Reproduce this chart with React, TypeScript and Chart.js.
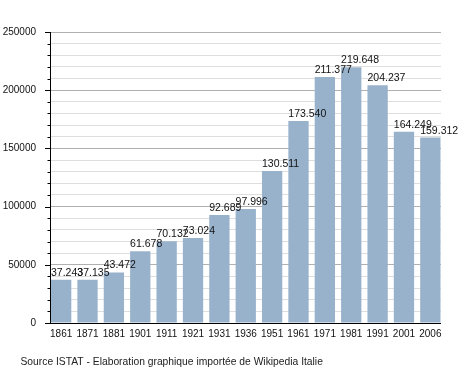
import React, { useEffect, useRef } from "react";
import { Chart, registerables } from "chart.js";

Chart.register(...registerables);

const years = ["1861", "1871", "1881", "1901", "1911", "1921", "1931", "1936", "1951", "1961", "1971", "1981", "1991", "2001", "2006"];
const population = [37243, 37135, 43472, 61678, 70132, 73024, 92689, 97996, 130511, 173540, 211377, 219648, 204237, 164249, 159312];
const yMax = 250000;
const yStep = 10000;
const yMajorStep = 50000;
const sourceText = "Source ISTAT - Elaboration graphique importée de Wikipedia Italie";

const FONT = "'Liberation Sans', Arial, sans-serif";

const fmt = (v: number) => (v / 1000).toFixed(3);

const overlayPlugin = {
  id: "overlay",
  afterDatasetsDraw(chart: any) {
    const ctx = chart.ctx;
    const meta = chart.getDatasetMeta(0);
    ctx.save();
    ctx.font = `10.5px ${FONT}`;
    ctx.fillStyle = "#111";
    ctx.textAlign = "left";
    ctx.textBaseline = "alphabetic";
    meta.data.forEach((bar: any, i: number) => {
      const left = bar.x - bar.width / 2;
      ctx.fillText(fmt(population[i]), left, bar.y - 4);
    });
    ctx.restore();
  },
  afterDraw(chart: any) {
    const ctx = chart.ctx;
    const y = chart.scales.y;
    const area = chart.chartArea;
    ctx.save();
    ctx.strokeStyle = "#000";
    ctx.lineWidth = 1;
    ctx.beginPath();
    for (let v = 0; v <= yMax; v += yStep) {
      const py = Math.round(y.getPixelForValue(v)) + 0.5;
      const len = v % yMajorStep === 0 ? 5 : 2.5;
      ctx.moveTo(area.left - len, py);
      ctx.lineTo(area.left, py);
    }
    const by = Math.round(area.bottom) + 0.5;
    ctx.moveTo(area.left - 5, by);
    ctx.lineTo(area.right, by);
    ctx.stroke();
    ctx.font = `10.3px ${FONT}`;
    ctx.fillStyle = "#222";
    ctx.textAlign = "left";
    ctx.textBaseline = "middle";
    ctx.fillText(sourceText, 20.5, 362);
    ctx.restore();
  },
};

export default function App() {
  const ref = useRef<HTMLCanvasElement | null>(null);
  useEffect(() => {
    document.body.style.margin = "0";
    if (!ref.current) return;
    const chart = new Chart(ref.current, {
      type: "bar",
      data: {
        datasets: [
          {
            data: population.map((v, i) => ({ x: i, y: v })),
            backgroundColor: "#98b2cc",
            borderWidth: 0,
            barPercentage: 0.77,
            categoryPercentage: 1,
          },
        ],
      },
      options: {
        responsive: false,
        animation: false,
        layout: { padding: { top: 32, right: 29, left: 0, bottom: 0 } },
        plugins: { legend: { display: false }, tooltip: { enabled: false } },
        scales: {
          x: {
            type: "linear",
            offset: false,
            min: -0.423,
            max: 14.404,
            grid: { display: false, drawTicks: false, offset: false },
            border: { display: false },
            ticks: {
              stepSize: 1,
              includeBounds: false,
              autoSkip: false,
              maxRotation: 0,
              padding: 5,
              color: "#111",
              font: { family: FONT, size: 10 },
              callback: (v: any) => (Number.isInteger(v) && years[v] !== undefined ? years[v] : ""),
            },
            afterFit: (s: any) => {
              s.height = 50;
            },
          },
          y: {
            min: 0,
            max: yMax,
            grid: {
              drawTicks: false,
              color: (c: any) => (c.tick && c.tick.value % yMajorStep === 0 ? "#b0b0b0" : "#dedede"),
            },
            border: { display: true, color: "#000" },
            ticks: {
              stepSize: yStep,
              autoSkip: false,
              padding: 14,
              color: "#111",
              font: { family: FONT, size: 10 },
              callback: (v: any) => (v % yMajorStep === 0 ? String(v) : ""),
            },
            afterFit: (s: any) => {
              s.width = 50;
            },
          },
        },
      },
      plugins: [overlayPlugin],
    });
    return () => chart.destroy();
  }, []);
  return <canvas ref={ref} width={470} height={373} style={{ display: "block" }} />;
}
